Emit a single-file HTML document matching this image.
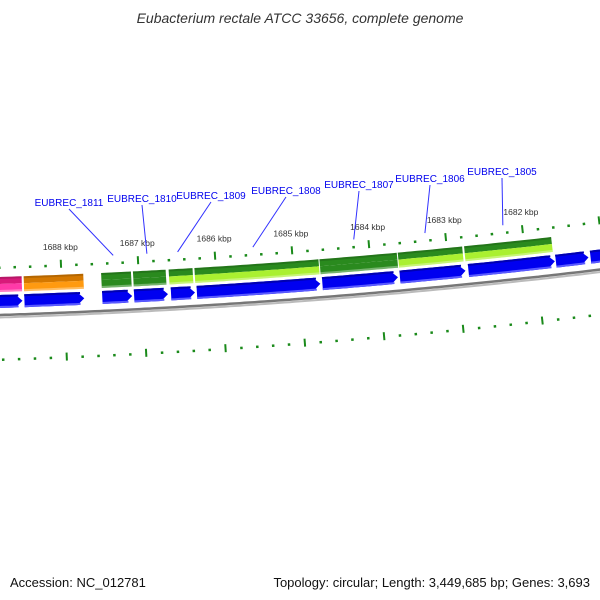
<!DOCTYPE html>
<html><head><meta charset="utf-8"><style>
body{margin:0;background:#fff}
svg{display:block;font-family:"Liberation Sans","DejaVu Sans",sans-serif}
</style></head><body>
<svg id="c" width="600" height="600" viewBox="0 0 600 600">
<text x="300" y="23" text-anchor="middle" font-size="14" font-style="italic" fill="#333">Eubacterium rectale ATCC 33656, complete genome</text>
<text x="10" y="587" font-size="13" fill="#111">Accession: NC_012781</text>
<text x="590" y="587" text-anchor="end" font-size="13" fill="#111">Topology: circular; Length: 3,449,685 bp; Genes: 3,693</text>
<g id="g"></g>
</svg>
<script>
// data
const innerStarts=[1688900,1688489,1687485,1687073,1686597,1686263,1684641,1683637,1682749,1681616,1681166];
const innerEnds=[1688515,1687717,1687099,1686636,1686288,1684667,1683662,1682788,1681629,1681192,1680700];
const outerStarts=[1688900,1688489,1687485,1687073,1686610,1686276,1684654,1683637,1682775];
const outerEnds=[1688515,1687717,1687099,1686649,1686301,1684667,1683650,1682800,1681642];
const outerTop=['#d81a7a','#d47800','#2a8a1e','#2a8a1e','#2a8a1e','#2a8a1e','#2a8a1e','#2a8a1e','#2a8a1e'];
const outerBottom=['#ff3aa8','#ff9a10','#2a8a1e','#2a8a1e','#aaf030','#aaf030','#2a8a1e','#aaf030','#aaf030'];
const geneNames=['EUBREC_1811','EUBREC_1810','EUBREC_1809','EUBREC_1808','EUBREC_1807','EUBREC_1806','EUBREC_1805'];
const geneAnchors=[1687318,1686880,1686481,1685503,1684190,1683263,1682247];
const labelX=[69,142,211,286,359,430,502];
const labelY=[206,202,199,194,188,182,175];
const tickLabels=[1688,1687,1686,1685,1684,1683,1682];

const NS='http://www.w3.org/2000/svg';
const G=document.getElementById('g');
const R=6900,CX=-220,CY=318.5-6900;
function xOf(bp){return 63+(1688000-bp)*0.0777;}
function pt(x,d){const f=(x-CX)/R;return [CX+(R-d)*Math.sin(f),CY+(R-d)*Math.cos(f)];}
function mk(tag,attrs){const e=document.createElementNS(NS,tag);for(const k in attrs)e.setAttribute(k,attrs[k]);G.appendChild(e);return e;}
function line(x1,x2,d){const a=[];for(let x=x1;x<=x2;x+=5){const p=pt(x,d);a.push(p[0].toFixed(1)+','+p[1].toFixed(1));}return a.join(' ');}
function band(x1,x2,d1,d2,tip){
  const a=[],b=[];const n=Math.max(2,Math.ceil((x2-x1)/5));
  for(let i=0;i<=n;i++){const x=x1+(x2-x1)*i/n;a.push(pt(x,d2));b.unshift(pt(x,d1));}
  let pts=a.slice();
  if(tip){pts.pop();pts.push(pt(x2-tip,d2));pts.push(pt(x2,(d1+d2)/2));b.shift();b.unshift(pt(x2-tip,d1));}
  pts=pts.concat(b);
  return pts.map(p=>p[0].toFixed(1)+','+p[1].toFixed(1)).join(' ');
}
// backbone
let e=mk('polyline',{points:line(-10,620,-2.5),fill:'none',stroke:'#bbb','stroke-width':2});

e=mk('polyline',{points:line(-10,620,0),fill:'none',stroke:'#777','stroke-width':2.5});

// inner (blue) genes
for(let i=0;i<innerStarts.length;i++){
  const x1=xOf(innerStarts[i]),x2=xOf(innerEnds[i]);
  e=mk('polygon',{points:band(x1,x2,7,20,7),fill:'#0000f0'});
  
  e=mk('polygon',{points:band(x1,x2-4,7,9),fill:'#5a5aff'});
  
  e=mk('polygon',{points:band(x1,x2-4,18,20),fill:'#0000b0'});
  
}
// outer genes
for(let i=0;i<outerStarts.length;i++){
  const x1=xOf(outerStarts[i]),x2=xOf(outerEnds[i]);
  e=mk('polygon',{points:band(x1,x2,31,38),fill:outerTop[i]});
  
  e=mk('polygon',{points:band(x1,x2,23,31),fill:outerBottom[i]});
  
  e=mk('polygon',{points:band(x1,x2,23,25),fill:'#fff',opacity:0.35});
  
  e=mk('polygon',{points:band(x1,x2,36,38),fill:'#000',opacity:0.15});
  
}
// ticks
for(let bp=1689000;bp>=1680600;bp-=200){
  const big=bp%1000===0;
  const x=xOf(bp);
  const p1=pt(x,big?45:46),p2=pt(x,big?53:48.5);
  e=mk('line',{x1:p1[0],y1:p1[1],x2:p2[0],y2:p2[1],stroke:'#1a8a1a','stroke-width':big?2:2.5});
  
  const xl=65+(1688000-bp)*0.079;
  const q1=pt(xl,big?-48:-46),q2=pt(xl,big?-40:-43.5);
  e=mk('line',{x1:q1[0],y1:q1[1],x2:q2[0],y2:q2[1],stroke:'#1a8a1a','stroke-width':big?2:2.5});
  
}
for(let i=0;i<tickLabels.length;i++){
  const p=pt(xOf(tickLabels[i]*1000),63);
  e=mk('text',{x:p[0],y:p[1],'text-anchor':'middle','font-size':8.5,fill:'#333'});
  e.textContent=tickLabels[i]+' kbp';
  
}
for(let i=0;i<geneNames.length;i++){
  const p=pt(xOf(geneAnchors[i]),55);
  e=mk('line',{x1:labelX[i],y1:labelY[i]+3,x2:p[0],y2:p[1],stroke:'#3030ff','stroke-width':1});
  
  e=mk('text',{x:labelX[i],y:labelY[i],'text-anchor':'middle','font-size':10,fill:'#0000ee'});
  e.textContent=geneNames[i];
  
}
</script>
</body></html>
